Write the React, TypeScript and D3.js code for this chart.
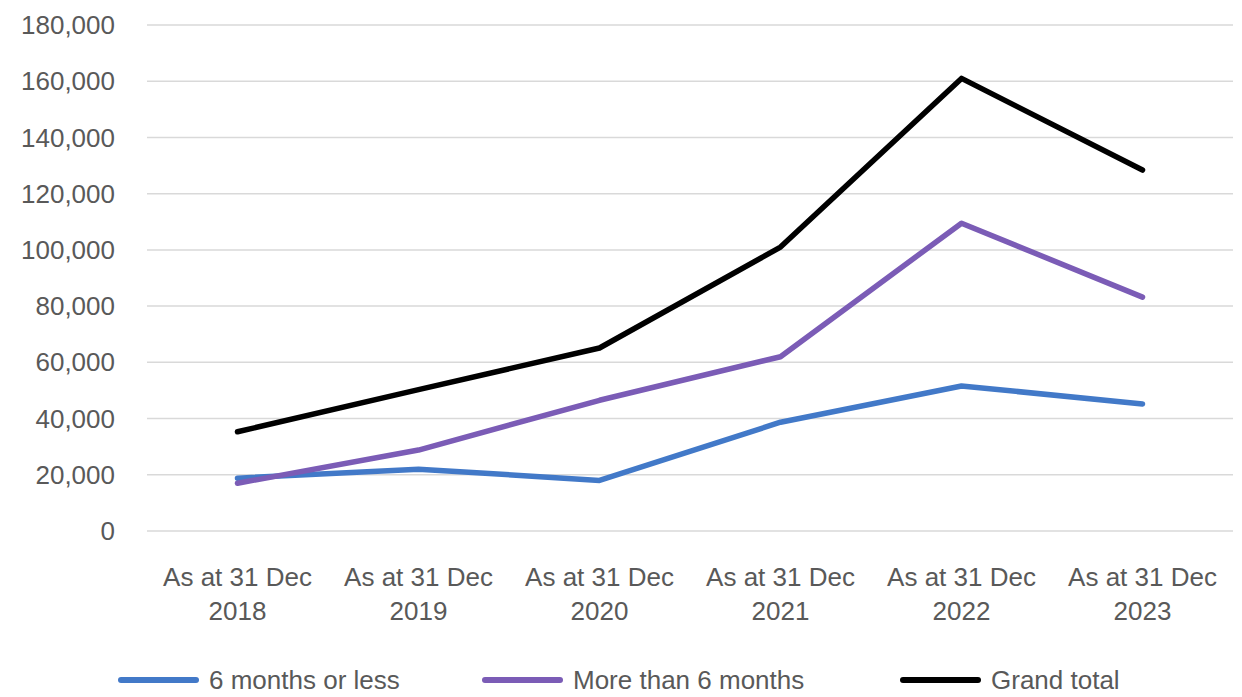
import React from 'react';
import * as d3 from 'd3';

const years = ['2018', '2019', '2020', '2021', '2022', '2023'];
const sixMonthsOrLess = [18800, 22000, 18000, 38700, 51600, 45200];
const moreThanSixMonths = [17000, 28800, 46500, 62000, 109500, 83200];
const grandTotal = [35300, 50300, 65100, 101000, 161000, 128400];
const yTicks = [0, 20000, 40000, 60000, 80000, 100000, 120000, 140000, 160000, 180000];

const series = [
    { name: '6 months or less', values: sixMonthsOrLess, color: '#4279c8' },
    { name: 'More than 6 months', values: moreThanSixMonths, color: '#7b5cb6' },
    { name: 'Grand total', values: grandTotal, color: '#000000' },
];

const width = 1242;
const height = 697;
const font = "'Liberation Sans', Arial, sans-serif";
const textColor = '#595959';

const App: React.FC = () => {
    const x = d3.scalePoint<string>().domain(years).range([147, 1233]).padding(0.5);
    const y = d3.scaleLinear().domain([0, 180000]).range([531, 25]);
    const fmt = d3.format(',');
    const line = d3.line<number>((d, i) => x(years[i]) as number, (d) => y(d));
    const legendX = [121, 485, 903];

    return (
        <svg width={width} height={height} style={{ position: 'absolute', left: 0, top: 0, background: '#fff' }}
            fontFamily={font}>
            <g stroke="#d9d9d9" strokeWidth="1.5">
                {yTicks.map((t) => (
                    <line key={t} x1={147} x2={1233} y1={y(t)} y2={y(t)} />
                ))}
            </g>
            <g fill={textColor} fontSize="26" textAnchor="end">
                {yTicks.map((t) => (
                    <text key={t} x={115} y={y(t)} dy="0.35em">{fmt(t)}</text>
                ))}
            </g>
            <g fill={textColor} fontSize="26" textAnchor="middle">
                {years.map((yr) => (
                    <text key={yr} x={x(yr)} y={586}>
                        <tspan x={x(yr)}>As at 31 Dec</tspan>
                        <tspan x={x(yr)} y={620}>{yr}</tspan>
                    </text>
                ))}
            </g>
            {series.map((s) => (
                <path key={s.name} d={line(s.values) || ''} fill="none" stroke={s.color}
                    strokeWidth="5.5" strokeLinejoin="round" strokeLinecap="round" />
            ))}
            <g fontSize="26" fill={textColor}>
                {series.map((s, i) => (
                    <g key={s.name} transform={`translate(${legendX[i]},680)`}>
                        <line x1={0} x2={75} y1={0} y2={0} stroke={s.color} strokeWidth="6" strokeLinecap="round" />
                        <text x={88} dy="0.35em">{s.name}</text>
                    </g>
                ))}
            </g>
        </svg>
    );
};

export default App;
